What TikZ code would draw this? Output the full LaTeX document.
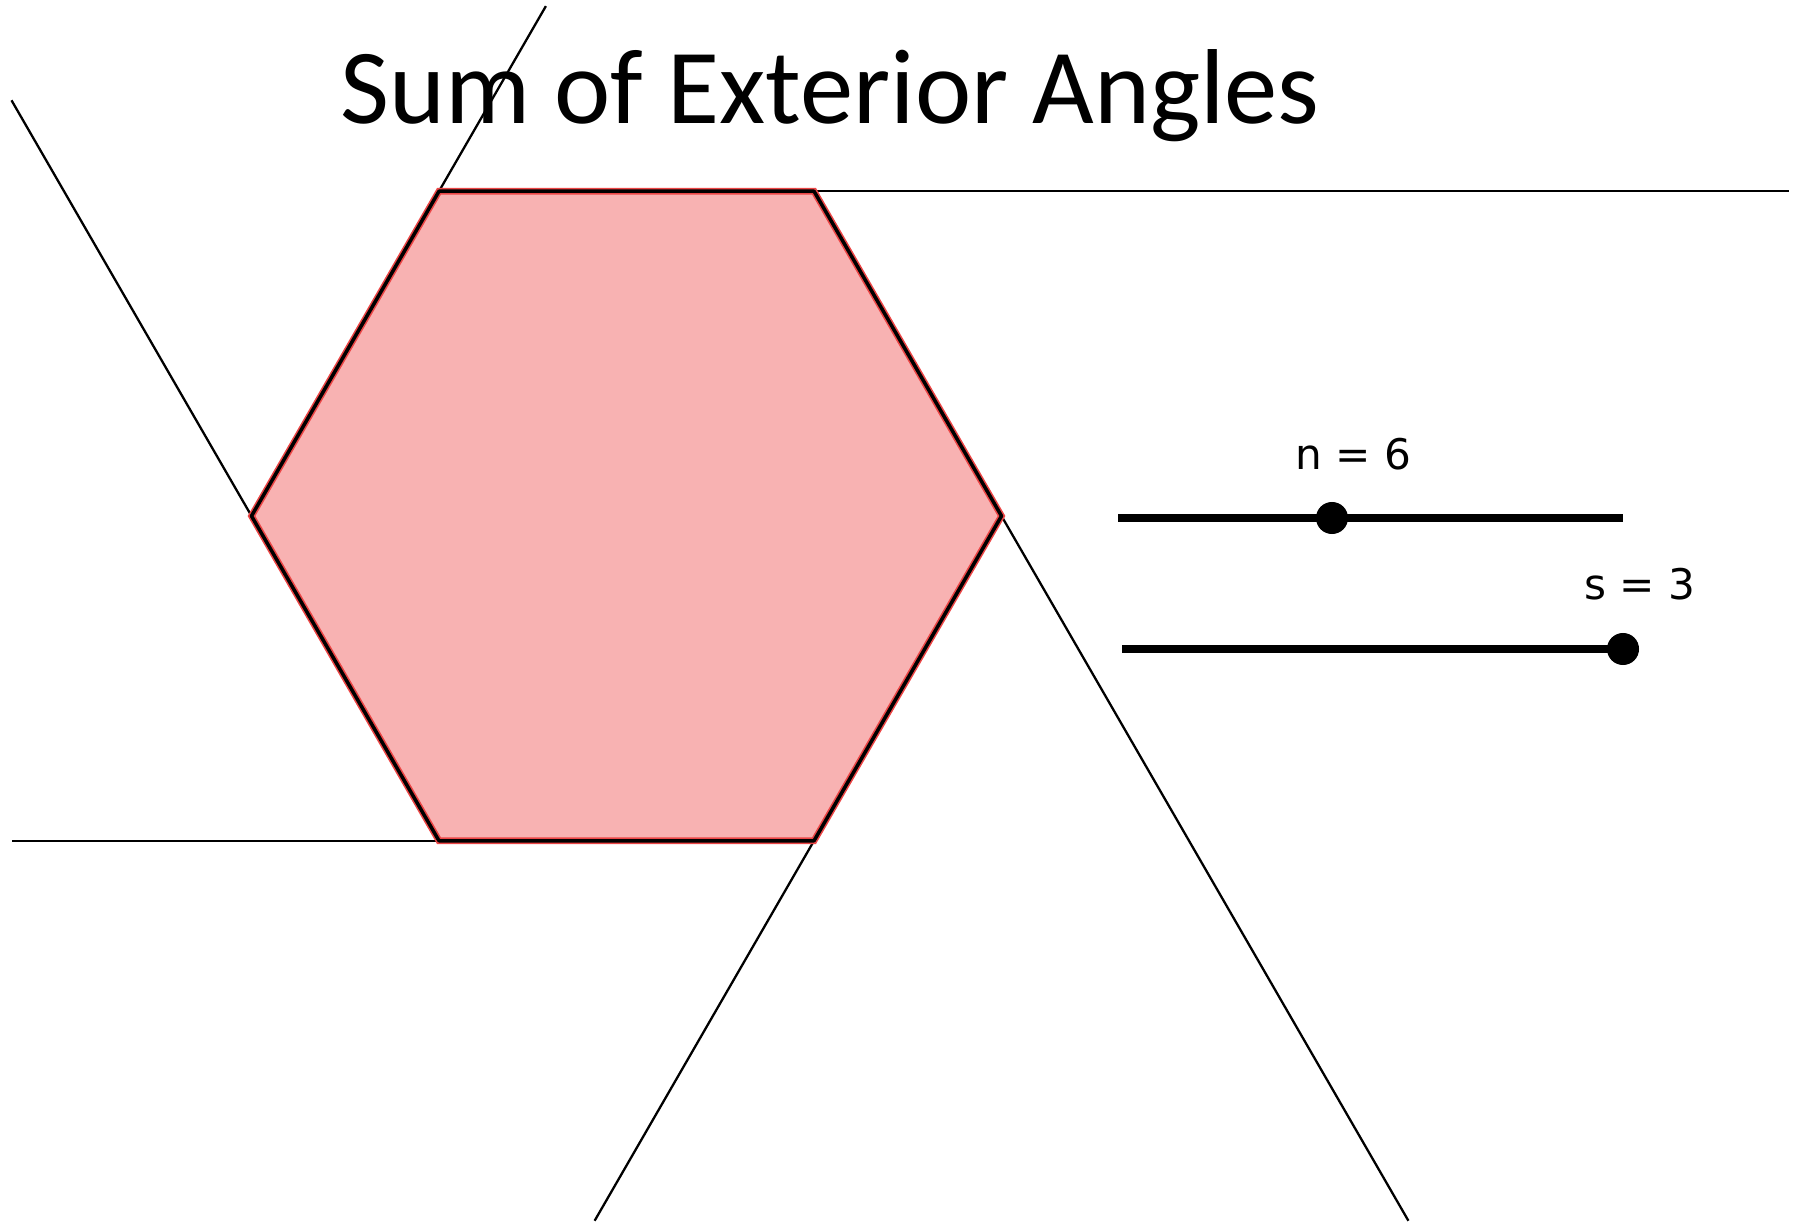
\documentclass[tikz,border=0pt]{standalone}
\usepackage{fontspec}
\setmainfont{Carlito}
\newfontfamily\ggbfont{DejaVu Sans}
\usetikzlibrary{calc,positioning}
\definecolor{hexpink}{RGB}{248,178,178}
\definecolor{hexred}{RGB}{235,70,70}

\begin{document}
\begin{tikzpicture}[x=0.01cm, y=-0.01cm,
    extline/.style={black, line width=0.65pt},
    hexedge/.style={draw=black, line width=1pt, line join=round,
      preaction={draw=hexred, line width=1.9pt}},
    sliderline/.style={black, line width=2pt},
    knob/.style={circle, fill=black, inner sep=0pt, minimum size=0.32cm},
    valuelabel/.style={font=\ggbfont\fontsize{12}{14}\selectfont, inner sep=1pt}]
  \useasboundingbox (0,0) rectangle (1801,1225);

  % title
  \node[font=\fontsize{30.3}{36}\selectfont, anchor=base, inner sep=0pt] (title) at (830,124) {Sum of Exterior Angles};

  % hexagon corners
  \coordinate (c) at (626.5,516);
  \foreach \nm [count=\i from 0] in {R,BR,BL,L,TL,TR}
    \coordinate (\nm) at ($(c)+({\i*60}:375)$);

  \fill[hexpink] (R) -- (BR) -- (BL) -- (L) -- (TL) -- (TR) -- cycle;

  % sides extended
  \draw[extline] (TL) -- ($(TL)!3.6!(TR)$);
  \draw[extline] (R) -- ($(TR)!3.17!(R)$);
  \draw[extline] (BR) -- ($(R)!2.17!(BR)$);
  \draw[extline] (BL) -- ($(BR)!2.14!(BL)$);
  \draw[extline] (L) -- ($(BL)!2.28!(L)$);
  \draw[extline] (TL) -- ($(L)!1.57!(TL)$);

  \draw[hexedge] (R) -- (BR) -- (BL) -- (L) -- (TL) -- (TR) -- cycle;

  % sliders
  \coordinate (nstart) at (1118,518);
  \coordinate (nend) at (1623,518);
  \draw[sliderline] (nstart) -- (nend);
  \node[knob] (nknob) at (1332,518) {};
  \node[valuelabel] (nlabel) at (1353,454) {n = 6};

  \coordinate (sstart) at (1122,649);
  \coordinate (send) at (1623,649);
  \draw[sliderline] (sstart) -- (send);
  \node[knob] (sknob) at (send) {};
  \node[valuelabel] (slabel) at (1640,584) {s = 3};
\end{tikzpicture}
\end{document}
